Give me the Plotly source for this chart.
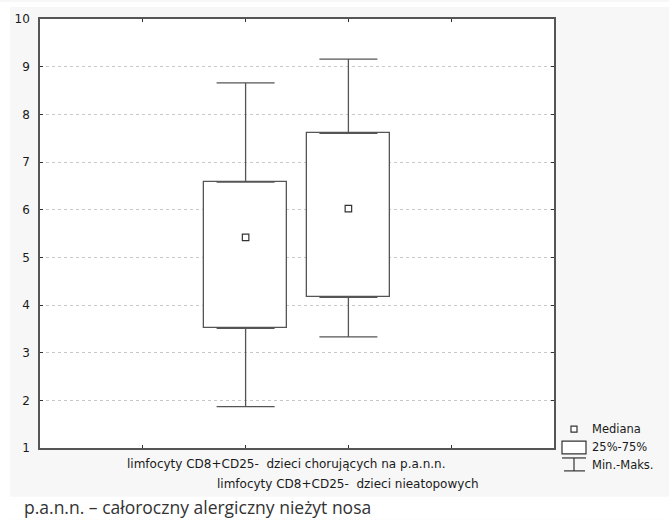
import plotly.graph_objects as go

# ---- data ----
groups = [
    "limfocyty CD8+CD25-\u00a0 dzieci chorujących na p.a.n.n.",
    "limfocyty CD8+CD25-\u00a0 dzieci nieatopowych",
]
mins = [1.87, 3.33]
q1 = [3.51, 4.16]
medians = [5.42, 6.02]
q3 = [6.58, 7.60]
maxs = [8.66, 9.16]
y_ticks = [1, 2, 3, 4, 5, 6, 7, 8, 9, 10]
legend_labels = ["Mediana", "25%-75%", "Min.-Maks."]
footnote = "p.a.n.n. – całoroczny alergiczny nieżyt nosa"

W, H = 669, 520
L, R, T, B = 40, 115, 17, 72
PW, PH = W - L - R, H - T - B

def px(x):
    return (x - L) / PW

def py(y):
    return (H - B - y) / PH

pos = [i + 2 for i in range(len(groups))]
LINE = "#555555"
FONT = "DejaVu Sans, Verdana, sans-serif"
PANEL = "#f7f7f7"

fig = go.Figure()

# IQR boxes
fig.add_trace(go.Bar(
    x=pos, y=[b - a for a, b in zip(q1, q3)], base=q1, width=0.8,
    marker=dict(color="white", line=dict(color=LINE, width=1.3)),
    hoverinfo="skip", showlegend=False,
))
# upper whiskers
fig.add_trace(go.Scatter(
    x=pos, y=q3, mode="markers", marker=dict(size=1, opacity=0),
    error_y=dict(type="data", symmetric=False,
                 array=[m - b for m, b in zip(maxs, q3)],
                 arrayminus=[0] * len(pos),
                 color=LINE, thickness=1.3, width=29),
    hoverinfo="skip", showlegend=False,
))
# lower whiskers
fig.add_trace(go.Scatter(
    x=pos, y=q1, mode="markers", marker=dict(size=1, opacity=0),
    error_y=dict(type="data", symmetric=False,
                 array=[0] * len(pos),
                 arrayminus=[a - m for a, m in zip(q1, mins)],
                 color=LINE, thickness=1.3, width=29),
    hoverinfo="skip", showlegend=False,
))
# medians
fig.add_trace(go.Scatter(
    x=pos, y=medians, mode="markers",
    marker=dict(symbol="square", size=6.5, color="white",
                line=dict(color="#333333", width=1.2)),
    showlegend=False,
))

white_strip = dict(type="rect", xref="paper", yref="paper", layer="below",
                   fillcolor="white", line=dict(width=0))
shapes = [
    # white page outside the grey panel (paper background is the panel colour)
    dict(white_strip, x0=px(0), x1=px(10), y0=py(H), y1=py(0)),
    dict(white_strip, x0=px(0), x1=px(W), y0=py(5), y1=py(0)),
    dict(white_strip, x0=px(0), x1=px(W), y0=py(H), y1=py(497)),
    # legend: median square
    dict(type="rect", xref="paper", yref="paper",
         x0=px(571), x1=px(577), y0=py(432), y1=py(426),
         fillcolor="white", line=dict(color="#333333", width=1.2)),
    # legend: box
    dict(type="rect", xref="paper", yref="paper",
         x0=px(562), x1=px(586), y0=py(454), y1=py(441),
         fillcolor="white", line=dict(color="#333333", width=1.2)),
    # legend: whisker
    dict(type="line", xref="paper", yref="paper",
         x0=px(562), x1=px(586), y0=py(458), y1=py(458),
         line=dict(color="#333333", width=1.2)),
    dict(type="line", xref="paper", yref="paper",
         x0=px(574), x1=px(574), y0=py(458), y1=py(471),
         line=dict(color="#333333", width=1.2)),
    dict(type="line", xref="paper", yref="paper",
         x0=px(564), x1=px(585), y0=py(471), y1=py(471),
         line=dict(color="#333333", width=1.2)),
]

annotations = []
for lab, ypx in zip(legend_labels, [429, 447, 465]):
    annotations.append(dict(
        text=lab, xref="paper", yref="paper", x=px(590), y=py(ypx),
        xanchor="left", yanchor="middle", showarrow=False,
        font=dict(family=FONT, size=11.5, color="#1a1a1a"),
    ))
# category labels (staggered like the original)
for i, (lab, p) in enumerate(zip(groups, pos)):
    annotations.append(dict(
        text=lab, xref="x", yref="paper", x=p, y=py(464 + 20 * i),
        xshift=40 if i == 0 else 0,
        xanchor="center", yanchor="middle", showarrow=False,
        font=dict(family=FONT, size=12, color="#1a1a1a"),
    ))
annotations.append(dict(
    text=footnote, xref="paper", yref="paper", x=px(22), y=py(507),
    xanchor="left", yanchor="middle", showarrow=False,
    font=dict(family="Open Sans, Noto Sans, sans-serif", size=17.5, color="#333333"),
))

fig.update_layout(
    width=W, height=H,
    margin=dict(l=L, r=R, t=T, b=B, pad=0),
    paper_bgcolor=PANEL, plot_bgcolor="white",
    showlegend=False, bargap=0,
    shapes=shapes, annotations=annotations,
    xaxis=dict(range=[0, 5], tickvals=[1, 2, 3, 4], ticktext=[""] * 4,
               ticks="inside", ticklen=3, tickcolor="#333333",
               showgrid=False, zeroline=False,
               showline=True, linecolor=LINE, linewidth=1.5, mirror="ticks"),
    yaxis=dict(range=[1, 10], tickvals=y_ticks,
               ticks="inside", ticklen=3, tickcolor="#333333",
               showgrid=True, gridcolor="#c8c8c8", griddash="dot", gridwidth=1,
               zeroline=False, showline=True, linecolor=LINE, linewidth=1.5,
               mirror="ticks", ticklabelstandoff=6,
               tickfont=dict(family=FONT, size=12, color="#1a1a1a")),
)

fig.write_html("out.html", config={"displayModeBar": False},
               post_script="document.body.style.margin='0';")
